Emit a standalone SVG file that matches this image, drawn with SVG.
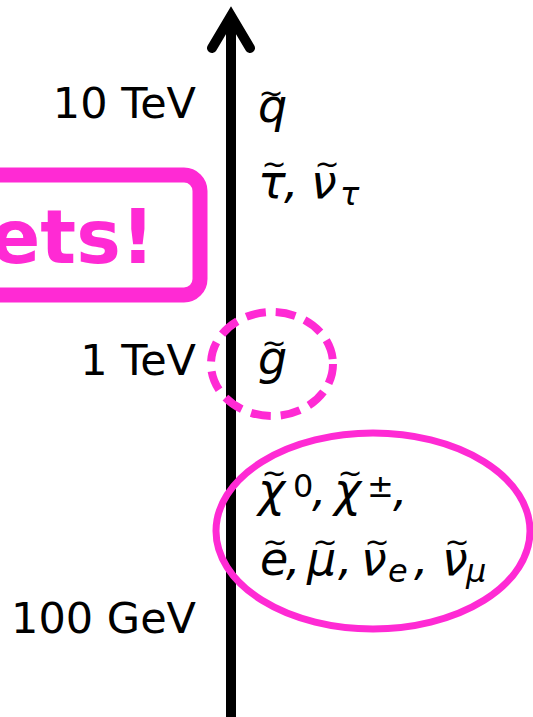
<svg xmlns="http://www.w3.org/2000/svg" width="533" height="717" viewBox="0 0 533 717">
<style>
.lab{font-family:"DejaVu Sans",sans-serif;font-size:43px;fill:#000;text-anchor:end}
.p{font-family:"DejaVu Sans",sans-serif;font-style:italic;font-size:46px;fill:#000}
.s{font-size:32px}
.u{font-size:32px;font-style:normal}
.t{font-size:30px;font-style:normal;text-anchor:middle}
.pk{fill:none;stroke:#ff2ad4}
</style>
<rect width="533" height="717" fill="#fff"/>
<g id="axis">
<line x1="231" y1="20" x2="231" y2="717" stroke="#000" stroke-width="10"/>
<polyline points="212,48 231,16 250,48" fill="none" stroke="#000" stroke-width="10" stroke-linecap="round" stroke-linejoin="miter"/>
</g>
<g id="labels">
<text class="lab" x="196" y="118">10 TeV</text>
<text class="lab" x="196" y="375">1 TeV</text>
<text class="lab" x="196" y="633">100 GeV</text>
</g>
<g id="box">
<rect class="pk" x="-40" y="175" width="240" height="120" rx="16" stroke-width="15"/>
<text x="155" y="263" font-family="DejaVu Sans,sans-serif" font-weight="bold" font-size="75" fill="#ff2ad4" text-anchor="end">ets!</text>
</g>
<g id="squark">
<text class="p"><tspan x="258" y="122">q</tspan><tspan class="t" x="271" y="103">~</tspan></text>
</g>
<g id="stau">
<text class="p"><tspan x="258" y="198">τ</tspan><tspan x="284">,</tspan><tspan x="311">ν</tspan><tspan class="s" x="340" y="205">τ</tspan><tspan class="t" x="274" y="174">~</tspan><tspan class="t" x="327" y="174">~</tspan></text>
</g>
<g id="gluino">
<ellipse class="pk" cx="272" cy="364" rx="61" ry="52" stroke-width="8" stroke-dasharray="20,10"/>
<text class="p"><tspan x="258" y="374">g</tspan><tspan class="t" x="274" y="353">~</tspan></text>
</g>
<g id="light">
<ellipse class="pk" cx="373" cy="531" rx="157" ry="98" stroke-width="7"/>
<text class="p"><tspan x="258" y="506">χ</tspan><tspan class="u" x="293" y="497">0</tspan><tspan x="312" y="506">,</tspan><tspan x="334">χ</tspan><tspan class="u" x="367" y="497">±</tspan><tspan x="393" y="506">,</tspan><tspan class="t" x="274" y="483">~</tspan><tspan class="t" x="350" y="483">~</tspan></text>
<text class="p"><tspan x="260" y="575">e</tspan><tspan x="286">,</tspan><tspan x="307">μ</tspan><tspan x="338">,</tspan><tspan x="361">ν</tspan><tspan class="s" x="388" y="582">e</tspan><tspan x="414" y="575">,</tspan><tspan x="442">ν</tspan><tspan class="s" x="466" y="582">μ</tspan><tspan class="t" x="275" y="552">~</tspan><tspan class="t" x="325" y="552">~</tspan><tspan class="t" x="377" y="552">~</tspan><tspan class="t" x="457" y="552">~</tspan></text>
</g>
</svg>
